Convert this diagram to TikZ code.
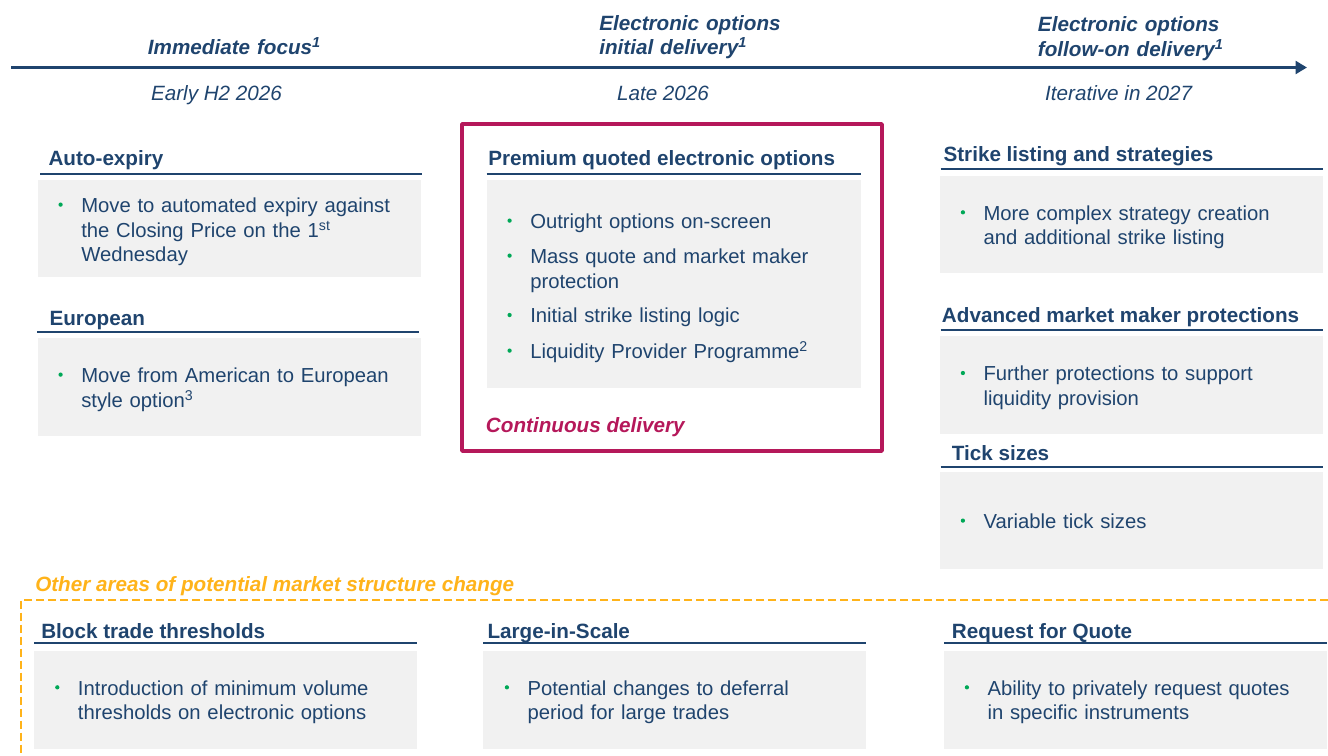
\documentclass[tikz,border=0pt]{standalone}
\usepackage{fontspec}
\setmainfont{Liberation Sans}
\usetikzlibrary{arrows.meta}
\definecolor{navy}{HTML}{1F446E}
\definecolor{crimson}{HTML}{B5185A}
\definecolor{amber}{HTML}{FFB31A}
\definecolor{panelgray}{HTML}{F1F1F1}
\definecolor{bulgreen}{HTML}{00A857}
\newcommand\slidefont{\fontsize{15.5}{18.4}\selectfont}
\newcommand\bodyfont{\fontsize{15.2}{18.4}\selectfont}
\tikzset{
  head/.style={anchor=base west, inner sep=0pt, font=\slidefont\bfseries, text=navy},
  when/.style={anchor=base, inner sep=0pt, font=\slidefont\itshape, text=navy},
  phase/.style={anchor=north west, yshift=12.88pt, inner sep=0pt, text width=220pt, align=left,
    font=\slidefont\bfseries\itshape, text=navy, execute at begin node=\strut},
  itm/.style={anchor=north west, yshift=12.88pt, inner sep=0pt, text width=260pt, align=left,
    font=\bodyfont, text=navy, execute at begin node=\strut},
  panel/.style={fill=panelgray},
  rule/.style={draw=navy, line width=1.5pt},
  dot/.style={fill=bulgreen},
}
\begin{document}
\begin{tikzpicture}[x=0.75pt,y=-0.75pt, line join=round]
    \useasboundingbox (0,0) rectangle (1328,756);
    %% timeline
    \coordinate (tstart) at (11,67.5);
    \coordinate (tend) at (1307,67.5);
    \draw[navy, line width=2.6pt, -{Triangle[length=8.5pt,width=9.5pt]}] (tstart) -- (tend);
    \node[phase] (ph1) at (147.7,54.3) {Immediate focus\textsuperscript{1}};
    \node[phase] (ph2) at (599,30) {Electronic options\\initial delivery\textsuperscript{1}};
    \node[phase] (ph3) at (1037.7,31.7) {Electronic options\\follow-on delivery\textsuperscript{1}};
    \node[when] (w1) at (216.5,101) {Early H2 2026};
    \node[when] (w2) at (663,100.7) {Late 2026};
    \node[when] (w3) at (1118.7,100.7) {Iterative in 2027};
    %% panels
    \fill[panel] (38,180) rectangle (421,277);
    \fill[panel] (38.3,338.3) rectangle (420.7,435.7);
    \fill[panel] (486.7,180) rectangle (861,388.3);
    \fill[panel] (940,176) rectangle (1323,273.3);
    \fill[panel] (940,335.7) rectangle (1323,434);
    \fill[panel] (940,471.7) rectangle (1323,568.5);
    \fill[panel] (34,650.7) rectangle (416.7,749);
    \fill[panel] (483.3,650.7) rectangle (866,749);
    \fill[panel] (944,650.7) rectangle (1327,749);
    %% underlines
    \draw[rule] (40,174) -- (422,174);
    \draw[rule] (37.3,331.7) -- (419.3,331.7);
    \draw[rule] (486.7,174) -- (861,174);
    \draw[rule] (940.7,169.3) -- (1323,169.3);
    \draw[rule] (940.7,330) -- (1323,330);
    \draw[rule] (940.7,467.3) -- (1323,467.3);
    \draw[rule] (34,643.3) -- (416.7,643.3);
    \draw[rule] (483.3,643.3) -- (866,643.3);
    \draw[rule] (944,643.3) -- (1327,643.3);
    %% headings
    \node[head] (auto) at (48.3,166) {Auto-expiry};
    \node[head] (euro) at (49.3,325.7) {European};
    \node[head] (prem) at (488,165.7) {Premium quoted electronic options};
    \node[head] (strike) at (943.3,161.7) {Strike listing and strategies};
    \node[head] (adv) at (941.7,322.3) {Advanced market maker protections};
    \node[head] (tick) at (951.7,460) {Tick sizes};
    \node[head] (block) at (41,638.3) {Block trade thresholds};
    \node[head] (lis) at (487.3,638.3) {Large-in-Scale};
    \node[head] (rfq) at (951.7,638.3) {Request for Quote};
    %% bullet texts
    \node[itm] (a1) at (81,212.3) {Move to automated expiry against\\the Closing Price on the 1\textsuperscript{st}\\Wednesday};
    \node[itm] (e1) at (81,382.3) {Move from American to European\\style option\textsuperscript{3}};
    \node[itm] (p1) at (530,228.3) {Outright options on-screen};
    \node[itm] (p2) at (530,263.3) {Mass quote and market maker\\protection};
    \node[itm] (p3) at (530,322.7) {Initial strike listing logic};
    \node[itm] (p4) at (530,358.3) {Liquidity Provider Programme\textsuperscript{2}};
    \node[itm] (s1) at (983.3,220) {More complex strategy creation\\and additional strike listing};
    \node[itm] (m1) at (983.3,380.7) {Further protections to support\\liquidity provision};
    \node[itm] (t1) at (983.3,528.3) {Variable tick sizes};
    \node[itm] (b1) at (77.7,695) {Introduction of minimum volume\\thresholds on electronic options};
    \node[itm] (l1) at (527.3,695) {Potential changes to deferral\\period for large trades};
    \node[itm] (r1) at (987.3,695) {Ability to privately request quotes\\in specific instruments};
    \foreach \n in {a1,e1,p1,p2,p3,p4,s1,m1,t1,b1,l1,r1}
        \fill[dot] (\n.north west) ++(-20.4,9.5) circle (1.6pt);
    %% continuous delivery frame
    \draw[crimson, line width=2.6pt] (462,124) rectangle (882,451);
    \node[anchor=base west, inner sep=0pt, font=\slidefont\bfseries\itshape, text=crimson] (cont) at (485.7,432.3) {Continuous delivery};
    %% other areas
    \draw[amber, line width=1.5pt, dash pattern=on 6pt off 3pt] (1328,599.5) -- (21,599.5) -- (21,756);
    \node[anchor=base west, inner sep=0pt, font=\slidefont\bfseries\itshape, text=amber] (other) at (35,591.7) {Other areas of potential market structure change};
\end{tikzpicture}
\end{document}
